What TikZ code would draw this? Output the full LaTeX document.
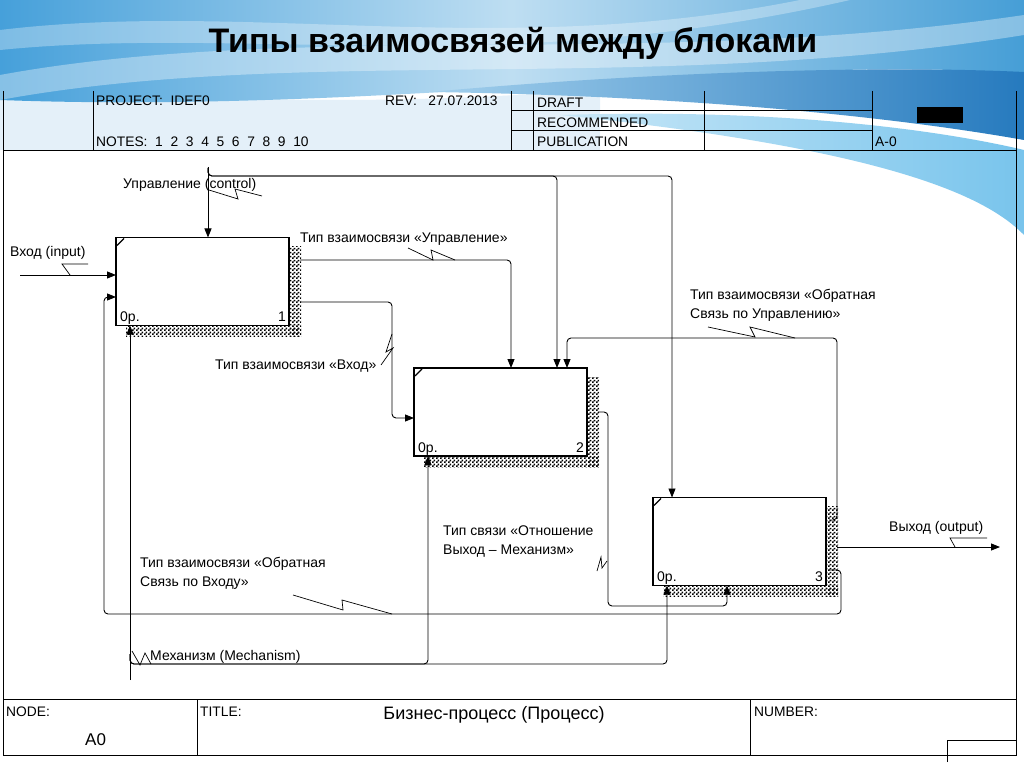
\documentclass[tikz,border=0pt]{standalone}
\usepackage{fontspec}
\setmainfont{Liberation Sans}
\usetikzlibrary{arrows.meta,patterns,calc}
\pgfdeclarepatternformonly{checkdots}{\pgfpointorigin}{\pgfpoint{4pt}{4pt}}{\pgfpoint{4pt}{4pt}}{%
  \pgfpathrectangle{\pgfpointorigin}{\pgfpoint{2pt}{2pt}}%
  \pgfpathrectangle{\pgfpoint{2pt}{2pt}}{\pgfpoint{2pt}{2pt}}%
  \pgfusepath{fill}}
\definecolor{bgA}{RGB}{70,160,218}
\definecolor{bgB}{RGB}{190,222,242}
\definecolor{bgC}{RGB}{70,158,214}
\definecolor{bgDark}{RGB}{38,122,190}
\definecolor{bgCyan}{RGB}{120,196,236}
\definecolor{bgPale}{RGB}{228,240,249}
\begin{document}
\begin{tikzpicture}[x=1pt,y=-1pt,
  conn/.style={line width=0.9pt, rounded corners=4pt},
  arr/.style={conn, -{Triangle[length=9pt,width=7pt]}},
  blk/.style={draw, line width=1.8pt, minimum width=173pt, minimum height=88pt, inner sep=0pt, outer sep=0pt, fill=white},
  lbl/.style={anchor=west, inner sep=0pt, font=\fontsize{14}{16}\selectfont},
  hdr/.style={anchor=west, inner sep=0pt, font=\fontsize{13.8}{15}\selectfont},
  frm/.style={line width=0.9pt},
  squig/.style={line width=0.7pt},
  shd/.style={pattern=checkdots, pattern color=black},
]
\useasboundingbox (0,0) rectangle (1024,767);
\fill[white] (0,0) rectangle (1024,767);
% background waves
\fill[bgPale] (0,80) .. controls (250,110) and (450,100) .. (600,90) -- (600,150) -- (0,150) -- cycle;
\shade[left color=bgA, right color=bgC, middle color=bgB] (0,0) -- (1024,0) -- (1024,75) .. controls (800,50) and (400,115) .. (0,100) -- cycle;
\fill[white, opacity=0.35] (0,75) .. controls (300,20) and (650,70) .. (1024,15) -- (1024,35) .. controls (650,95) and (300,45) .. (0,100) -- cycle;
\fill[white, opacity=0.3] (0,30) .. controls (250,0) and (500,60) .. (800,0) -- (850,0) .. controls (500,80) and (250,25) .. (0,50) -- cycle;
\shade[left color=bgA!50, right color=bgDark] (430,92) .. controls (650,72) and (880,65) .. (1024,72) -- (1024,140) .. controls (900,118) and (700,96) .. (430,92) -- cycle;
\shade[left color=bgCyan!40, right color=bgCyan] (560,115) .. controls (780,108) and (940,130) .. (1024,150) -- (1024,235) .. controls (990,200) and (900,150) .. (560,115) -- cycle;

\node[font=\bfseries\fontsize{34}{40}\selectfont] (title) at (513,43) {Типы взаимосвязей между блоками};

% frame
\draw[frm] (3,91) -- (3,755) -- (1016,755) -- (1016,91);
\draw[frm] (3,150) -- (1016,150);
\draw[frm] (3,699) -- (1016,699);
\draw[frm] (93,91) -- (93,150);
\draw[frm] (511,91) -- (511,150);
\draw[frm] (533,91) -- (533,150);
\draw[frm] (704,91) -- (704,150);
\draw[frm] (872,91) -- (872,150);
\draw[frm] (511,110) -- (872,110);
\draw[frm] (511,130) -- (872,130);
\fill (917,107) rectangle (963,123);
\draw[frm] (197,699) -- (197,755);
\draw[frm] (750,699) -- (750,755);
\draw[frm] (947,762) -- (947,740) -- (1016,740);

\node[hdr] (proj) at (96,101) {PROJECT:\ \ IDEF0};
\node[hdr] (rev) at (385,101) {REV:\ \ \ 27.07.2013};
\node[hdr] (notes) at (96,142) {NOTES:\ \ 1\ \ 2\ \ 3\ \ 4\ \ 5\ \ 6\ \ 7\ \ 8\ \ 9\ \ 10};
\node[hdr] (draft) at (537,103) {DRAFT};
\node[hdr] (recom) at (537,123) {RECOMMENDED};
\node[hdr] (publ) at (537,142) {PUBLICATION};
\node[hdr] (a0top) at (875,142) {A-0};
\node[hdr] (node) at (6,712) {NODE:};
\node[lbl, font=\fontsize{17}{19}\selectfont] (a0) at (85,740) {A0};
\node[hdr] (titlel) at (200,712) {TITLE:};
\node[font=\fontsize{18}{20}\selectfont, inner sep=0pt] (ttext) at (494,715) {Бизнес-процесс (Процесс)};
\node[hdr] (numb) at (754,712) {NUMBER:};

% boxes with shadows
\node[blk] (b1) at (202.5,281.5) {};
\node[blk] (b2) at (500.5,412) {};
\node[blk] (b3) at (739.5,541.5) {};
\foreach \b in {b1,b2,b3}{
  \fill[shd] ($(\b.north east)+(1,9)$) rectangle ($(\b.south east)+(12,11)$);
  \fill[shd] ($(\b.south west)+(10,1)$) rectangle ($(\b.south east)+(12,11)$);
  \draw[line width=1.2pt] ($(\b.north west)+(1,8)$) -- ($(\b.north west)+(8,1)$);
  \node[lbl, anchor=base west] at ($(\b.south west)+(4,-4)$) {0р.};
}
\node[lbl, anchor=base east] (n1) at ($(b1.south east)+(-3,-4)$) {1};
\node[lbl, anchor=base east] (n2) at ($(b2.south east)+(-3,-4)$) {2};
\node[lbl, anchor=base east] (n3) at ($(b3.south east)+(-3,-4)$) {3};

% connectors
\coordinate (inS) at (20,275);
\draw[arr] (inS) -- (inS -| b1.west);
\coordinate (ctlS) at (208,167);
\draw[arr] (ctlS) -- (ctlS |- b1.north);
\coordinate (ctlJ) at (208,168);
\coordinate (c2) at (557,176);
\coordinate (c3) at (672,176);
\draw[arr] (ctlJ) |- (c2) -- (c2 |- b2.north);
\draw[arr] (ctlJ) |- (c3) -- (c3 |- b3.north);

\coordinate (o11) at (511,260);
\draw[arr] ($(b1.east |- o11)+(11,0)$) -| (o11 |- b2.north);
\coordinate (o12) at (392,302);
\coordinate (i2) at (392,418);
\draw[arr] ($(b1.east |- o12)+(11,0)$) -- (o12) -- (i2) -- (i2 -| b2.west);

\coordinate (o2) at (608,412);
\coordinate (m3b) at (727,606);
\draw[arr] ($(b2.east |- o2)+(11,0)$) -- (o2) |- (m3b) -- (m3b |- b3.south);

\coordinate (outE) at (1000,547);
\draw[arr] ($(b3.east |- outE)+(11,0)$) -- (outE);

\coordinate (fcS) at (829,520);
\coordinate (fc) at (837,338);
\coordinate (fcE) at (567,338);
\draw[arr] (fcS) -| (fc) -- (fcE) -- (fcE |- b2.north);

\coordinate (fiS) at (829,570);
\coordinate (fiC) at (841,614);
\coordinate (fiL) at (104,614);
\coordinate (fiT) at (104,297);
\draw[arr] (fiS) -| (fiC) -- (fiL) -- (fiT) -- (fiT -| b1.west);

\coordinate (mS) at (130,680);
\draw[arr] (mS) -- (mS |- b1.south);
\coordinate (mJ) at (130,654);
\coordinate (mB2) at (428,664);
\coordinate (mB3) at (667,664);
\draw[arr] (mJ) |- (mB2) -- (mB2 |- b2.south);
\draw[arr] (mJ) |- (mB3) -- (mB3 |- b3.south);

% labels
\node[lbl] (lctl) at (123,185) {Управление (control)};
\node[lbl] (lin) at (10,253) {Вход (input)};
\node[lbl] (lupr) at (300,239) {Тип взаимосвязи «Управление»};
\node[lbl] (lvh) at (215,366) {Тип взаимосвязи «Вход»};
\node[lbl] (lfc1) at (690,296) {Тип взаимосвязи «Обратная};
\node[lbl] (lfc2) at (690,315) {Связь по Управлению»};
\node[lbl] (lrel1) at (443,531) {Тип связи «Отношение};
\node[lbl] (lrel2) at (443,551) {Выход – Механизм»};
\node[lbl] (lout) at (889,528) {Выход (output)};
\node[lbl] (lfi1) at (140,564) {Тип взаимосвязи «Обратная};
\node[lbl] (lfi2) at (140,583) {Связь по Входу»};
\node[lbl] (lmech) at (150,657) {Механизм (Mechanism)};

% squiggles
\draw[squig] (88,264) -- (62,264) -- (70,275);
\draw[squig] (209,190) -- (238,199) -- (235,189) -- (262,196);
\draw[squig] (408,248) -- (433,260) -- (431,250) -- (455,260);
\draw[squig] (381,365) -- (393,348) -- (386,352) -- (392,334);
\draw[squig] (708,327) -- (755,337) -- (750,327) -- (795,338);
\draw[squig] (293,595) -- (343,610) -- (342,600) -- (392,614);
\draw[squig] (597,571) -- (601,557) -- (602,568) -- (607,561);
\draw[squig] (987,538) -- (950,538) -- (955,547);
\draw[squig] (132,651) -- (140,665) -- (145,653) -- (151,664);
\end{tikzpicture}
\end{document}
